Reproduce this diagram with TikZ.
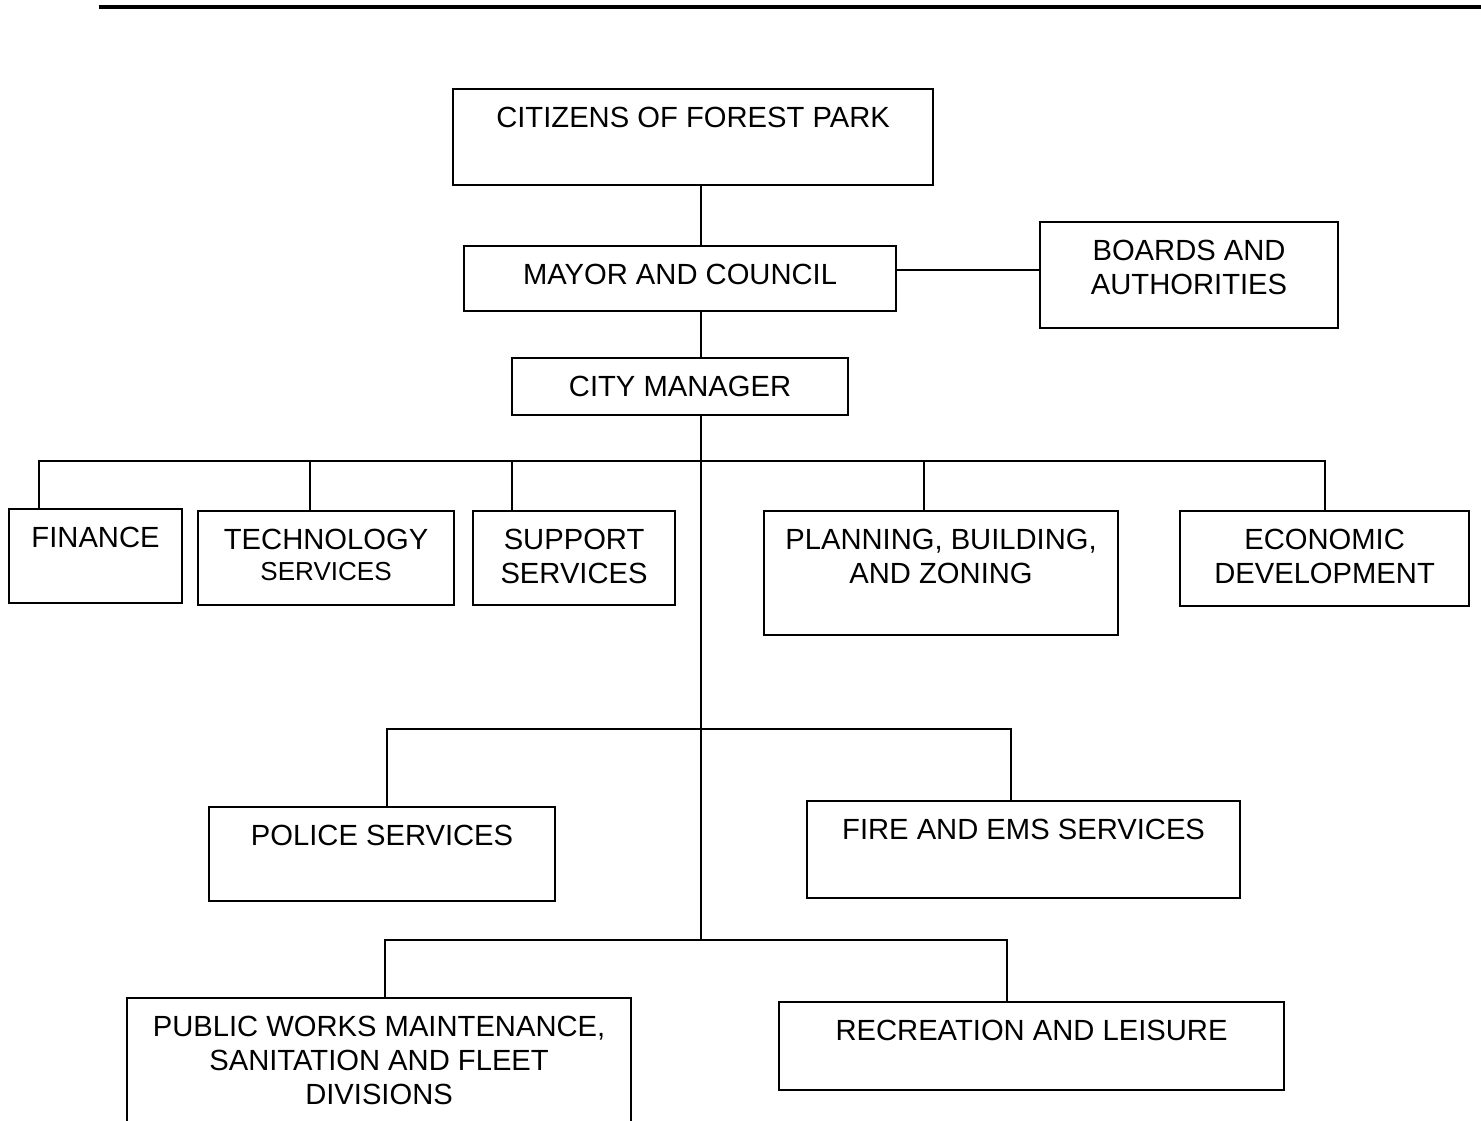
\documentclass[tikz,border=0pt]{standalone}
\usepackage{fontspec}
\setmainfont{Liberation Sans}
\usepackage{tikz}
\usetikzlibrary{positioning,calc}

% one drawing unit, used for the box sizes
\newdimen\pxu
\pxu=0.01cm
% box contents: width, height, text (text hangs from the top)
\newcommand{\orgbox}[3]{\parbox[t][#2\pxu][t]{#1\pxu}{\centering\vspace*{18\pxu}#3}}

\begin{document}
\begin{tikzpicture}[x=0.01cm,y=-0.01cm,
  unit/.style={draw,line width=0.6pt,inner sep=0pt,anchor=north west,
    font=\fontsize{8.3}{9.7}\selectfont},
  link/.style={line width=0.6pt}]
  \useasboundingbox (0,0) rectangle (1481,1120);
  % rule across the top
  \draw[line width=1.3pt] (99,7) -- (1481,7);

  % top of the chart
  \node[unit] (cit) at (452,88) {\orgbox{480}{96}{CITIZENS OF FOREST PARK}};
  \node[unit] (mayor) at (463,245) {\orgbox{432}{65}{MAYOR AND COUNCIL}};
  \node[unit] (cm) at (511,357) {\orgbox{336}{57}{CITY MANAGER}};
  \node[unit] (boards) at (1039,221) {\orgbox{298}{106}{BOARDS AND\\AUTHORITIES}};

  % departments
  \node[unit] (fin) at (8,508) {\orgbox{173}{94}{FINANCE}};
  \node[unit] (tech) at (197,510) {\orgbox{256}{94}{TECHNOLOGY\\[-3\pxu]{\fontsize{7.4}{9}\selectfont SERVICES}}};
  \node[unit] (sup) at (472,510) {\orgbox{202}{94}{SUPPORT\\SERVICES}};
  \node[unit] (plan) at (763,510) {\orgbox{354}{124}{PLANNING, BUILDING,\\AND ZONING}};
  \node[unit] (econ) at (1179,510) {\orgbox{289}{95}{ECONOMIC\\DEVELOPMENT}};

  \node[unit] (police) at (208,806) {\orgbox{346}{94}{POLICE SERVICES}};
  \node[unit] (fire) at (806,800) {\orgbox{433}{97}{FIRE AND EMS SERVICES}};

  \node[unit] (works) at (126,997) {\orgbox{504}{140}{PUBLIC WORKS MAINTENANCE,\\SANITATION AND FLEET\\DIVISIONS}};
  \node[unit] (rec) at (778,1001) {\orgbox{505}{88}{RECREATION AND LEISURE}};

  % bus lines off the trunk
  \coordinate (bus1) at (701,461);
  \coordinate (bus2) at (701,729);
  \coordinate (bus3) at (701,940);

  \draw[link] (cit.south -| bus1) -- (mayor.north -| bus1);
  \draw[link] (mayor.south -| bus1) -- (cm.north -| bus1);
  \draw[link] ($(mayor.east)+(0,-8.5)$) -- ($(boards.west)+(0,-5)$);
  \draw[link] (cm.south -| bus1) -- (bus3);

  \foreach \b/\n/\dx in {bus1/fin/-56.5, bus1/tech/-16, bus1/sup/-62,
    bus1/plan/-17, bus1/econ/0, bus2/police/5, bus2/fire/-12.5,
    bus3/works/6, bus3/rec/-24.5}
    \draw[link] (\b) -| ($(\n.north)+(\dx,0)$);
\end{tikzpicture}
\end{document}
